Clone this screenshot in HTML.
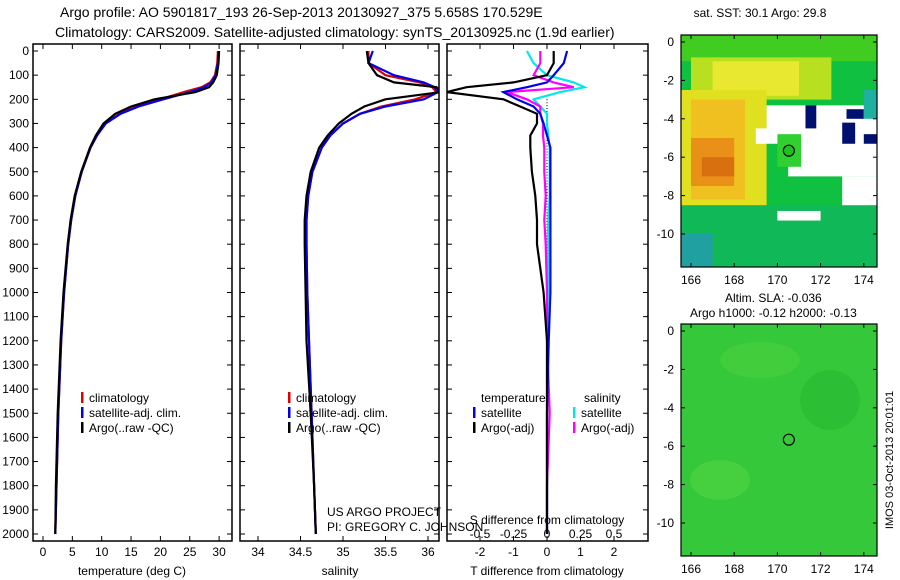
<!DOCTYPE html>
<html><head><meta charset="utf-8"><style>
body{margin:0;background:#fff}
svg{display:block;font-family:"Liberation Sans",sans-serif}
</style></head><body>
<svg id="s" width="900" height="580" viewBox="0 0 900 580">
<defs><clipPath id="c1"><rect x="681" y="35" width="196" height="232"/></clipPath><clipPath id="c2"><rect x="681" y="324" width="196" height="232"/></clipPath></defs>
<text x="60" y="17" font-size="14">Argo profile: AO 5901817_193 26-Sep-2013 20130927_375 5.658S 170.529E</text>
<text x="55" y="37" font-size="14">Climatology: CARS2009. Satellite-adjusted climatology: synTS_20130925.nc (1.9d earlier)</text>
<g id="g"></g>
</svg>
<script>
// depth grid shared by profiles
const depths=[0,50,100,130,150,170,200,230,260,300,350,400,500,600,700,800,1000,1200,1500,1800,2000];
const tempClim=[29.8,29.7,29.3,28.5,27,24,20,16,13,10.6,9.2,8.1,6.6,5.5,4.8,4.3,3.6,3.1,2.6,2.3,2.1];
const tempSat=[29.9,29.8,29.4,28.7,27.5,25,20.5,16.3,13.2,10.7,9.2,8.1,6.6,5.5,4.8,4.3,3.6,3.1,2.6,2.3,2.1];
const tempArgo=[30.0,29.9,29.6,29,28.3,26,19,15,12.3,10.3,9.0,8.0,6.5,5.4,4.7,4.2,3.5,3.0,2.5,2.2,2.1];
const salClim=[35.3,35.3,35.5,35.9,36.05,36.1,35.85,35.45,35.2,35.0,34.85,34.75,34.64,34.59,34.57,34.57,34.58,34.6,34.63,34.66,34.68];
const salSat=[35.35,35.3,35.6,35.95,36.08,36.12,35.95,35.5,35.2,35.0,34.85,34.75,34.64,34.59,34.57,34.57,34.58,34.6,34.63,34.66,34.68];
const salArgo=[35.28,35.3,35.4,35.6,36.1,36.15,35.5,35.25,35.1,34.95,34.82,34.72,34.62,34.57,34.55,34.55,34.56,34.57,34.62,34.66,34.68];
const dTsat=[0.6,0.5,0.2,0.0,-0.6,-1.3,-0.9,-0.4,-0.2,-0.1,0.0,0.1,0.1,0.1,0.1,0.1,0.1,0.05,0.0,0.0,0.0];
const dTargo=[0.2,0.2,0.0,-1.0,-2.4,-3.0,-1.3,-0.8,-0.3,-0.3,-0.5,-0.5,-0.45,-0.35,-0.3,-0.3,-0.1,0.0,0.0,0.0,0.0];
const dSsat=[-0.15,-0.1,0.0,0.2,0.28,0.1,-0.1,-0.05,0.0,0.0,0.01,0.02,0.02,0.02,0.01,0.01,0.01,0.0,0.0,0.0,0.0];
const dSargo=[-0.05,-0.05,-0.1,0.05,0.2,-0.3,-0.15,-0.05,-0.05,-0.03,-0.03,-0.02,-0.02,-0.01,-0.02,-0.01,0.0,0.0,0.02,0.0,0.0];
const depthTicks=[0,100,200,300,400,500,600,700,800,900,1000,1100,1200,1300,1400,1500,1600,1700,1800,1900,2000];
const tTicks=[0,5,10,15,20,25,30];
const sTicks=[34,34.5,35,35.5,36];
const dTicks=[-2,-1,0,1,2];
const dSTicks=[-0.5,-0.25,0,0.25,0.5];
const mapLonTicks=[166,168,170,172,174];
const mapLatTicks=[0,-2,-4,-6,-8,-10];

const NS='http://www.w3.org/2000/svg';const G=document.getElementById('g');
function el(t,a,p){const e=document.createElementNS(NS,t);for(const k in a)e.setAttribute(k,a[k]);(p||G).appendChild(e);return e;}
function tx(x,y,s,anchor,size,name){const e=el('text',{x:x,y:y,'font-size':size||12,'text-anchor':anchor||'start'});e.textContent=s;

return e;}
const Y0=44,Y1=541;
const yD=d=>51+d*0.2415;
const xT=v=>43+v*5.87, xS=v=>258+(v-34)*85, xD=v=>547+v*33.5, xDS=v=>547+v*134;
function frame(x0,x1,name){const r=el('rect',{x:x0,y:Y0,width:x1-x0,height:Y1-Y0,fill:'none',stroke:'#000','stroke-width':1.5});

}
function line(xs,xf,color,name,w,clip){let p='';depths.forEach((d,i)=>{p+=(i?'L':'M')+xf(xs[i]).toFixed(1)+','+yD(d).toFixed(1);});
const e=el('path',{d:p,fill:'none',stroke:color,'stroke-width':w||2.2});
if(clip)e.setAttribute('clip-path','url(#'+clip+')');

}
function xticks(ticks,xf,ys,name){ticks.forEach(t=>{const x=xf(t);el('line',{x1:x,x2:x,y1:Y1,y2:Y1-5,stroke:'#000'});el('line',{x1:x,x2:x,y1:Y0,y2:Y0+5,stroke:'#000'});tx(x,ys,String(t),'middle',12,name);});}
function yticks(x0,x1,lab){depthTicks.forEach(d=>{const y=yD(d);el('line',{x1:x0,x2:x0+5,y1:y,y2:y,stroke:'#000'});el('line',{x1:x1,x2:x1-5,y1:y,y2:y,stroke:'#000'});if(lab)tx(x0-4,y+4,String(d),'end',12,'depth-tick-label');});}
const defs=document.querySelector('defs');
el('clipPath',{id:'p2'},defs).appendChild(document.createElementNS(NS,'rect'));
document.querySelector('#p2 rect').setAttribute('x',240);document.querySelector('#p2 rect').setAttribute('y',44);document.querySelector('#p2 rect').setAttribute('width',199);document.querySelector('#p2 rect').setAttribute('height',497);
el('clipPath',{id:'p3'},defs).appendChild(document.createElementNS(NS,'rect'));
document.querySelector('#p3 rect').setAttribute('x',447);document.querySelector('#p3 rect').setAttribute('y',44);document.querySelector('#p3 rect').setAttribute('width',201);document.querySelector('#p3 rect').setAttribute('height',497);
// panel 1
frame(33,232,'temperature-panel');yticks(33,232,true);xticks(tTicks,xT,556,'temperature-tick-label');
tx(132,575,'temperature (deg C)','middle',12,'temperature-axis-title');
line(tempClim,xT,'#e00000','temp-climatology');line(tempSat,xT,'#0000ee','temp-satellite');line(tempArgo,xT,'#000','temp-argo');
// panel 2
frame(240,439,'salinity-panel');yticks(240,439,false);xticks(sTicks,xS,556,'salinity-tick-label');
tx(340,575,'salinity','middle',12,'salinity-axis-title');
line(salClim,xS,'#e00000','sal-climatology',2.2,'p2');line(salSat,xS,'#0000ee','sal-satellite',2.2,'p2');line(salArgo,xS,'#000','sal-argo',2.2,'p2');
// panel 3
frame(447,648,'difference-panel');yticks(447,648,false);xticks(dTicks,xD,556,'tdiff-tick-label');
dSTicks.forEach(t=>tx(xDS(t),538,String(t),'middle',12,'sdiff-tick-label'));
for(let d=200;d<2000;d+=12)el('line',{x1:547,x2:547,y1:yD(d),y2:yD(d)+1,stroke:'#000'});
tx(547,575,'T difference from climatology','middle',12,'tdiff-axis-title');
tx(547,524,'S difference from climatology','middle',12,'sdiff-axis-title');
line(dSsat,xDS,'#00e8e8','sdiff-satellite',2.2,'p3');line(dSargo,xDS,'#ff00ff','sdiff-argo',2.2,'p3');
line(dTsat,xD,'#0000ee','tdiff-satellite',2.2,'p3');line(dTargo,xD,'#000','tdiff-argo',2.2,'p3');
// legends
function leg(x,y,c,s,n){el('rect',{x:x,y:y-10,width:2.5,height:11,fill:c});tx(x+8,y,s,'start',12,n);}
[[33,''],[240,'sal-']].forEach(([o,p])=>{const dx=o-33;leg(81+dx,402,'#e00000','climatology',p+'legend-climatology');leg(81+dx,417,'#0000ee','satellite-adj. clim.',p+'legend-satellite');leg(81+dx,432,'#000','Argo(..raw -QC)',p+'legend-argo');});
tx(481,402,'temperature','start',12,'legend-temperature-header');tx(584,402,'salinity','start',12,'legend-salinity-header');
leg(473,417,'#0000ee','satellite','legend-t-satellite');leg(473,432,'#000','Argo(-adj)','legend-t-argo');
leg(573,417,'#00e8e8','satellite','legend-s-satellite');leg(573,432,'#ff00ff','Argo(-adj)','legend-s-argo');
tx(327,516,'US ARGO PROJECT','start',12,'project-label');tx(327,531,'PI: GREGORY C. JOHNSON','start',12,'pi-label');
// maps
function map(y0,name,sst){
 const x0=681,w=196,h=232;
 const lx=v=>691+(v-166)*21.6, ly=v=>y0+7+(-v)*19.2;
 const grp=el('g',{});
 const inner=el('g',{'clip-path':sst?'url(#c1)':'url(#c2)'},grp);
 el('rect',{x:x0,y:y0,width:w,height:h,fill:sst?'#10c040':'#35c83a'},inner);
 if(sst){
  const R=(a,b,c,d,f)=>el('rect',{x:lx(a),y:ly(b),width:(c-a)*21.6,height:(b-d)*19.2,fill:f},inner);
  R(165.5,0.5,176,-1,'#40cc20');R(166,-0.8,172.5,-3,'#b8e020');R(167,-1,171,-2.8,'#e8e830');
  R(165.5,-2.5,169.5,-9,'#e0e020');R(166,-3,168.5,-8.2,'#f0c020');R(166,-5,168,-7.5,'#e89018');R(166.5,-6,168,-7,'#d87010');
  R(165.5,-8.5,176,-12,'#10b858');R(165.5,-10,167,-12,'#20a0a0');
  R(169.5,-3.3,176,-5,'#fff');R(170.5,-5,176,-7,'#fff');R(169,-4.5,170.5,-5.3,'#fff');R(173,-7,176,-8.5,'#fff');R(170,-8.8,172,-9.3,'#fff');R(175,-9,176,-10,'#fff');R(174.8,-0.5,176,-2,'#fff');
  R(171.3,-3.3,171.8,-4.5,'#001070');R(173.2,-3.5,174,-4,'#001070');R(173,-4.2,173.6,-5.3,'#001070');R(174,-4.8,174.6,-5.3,'#001070');
  R(174.7,-6.5,176,-9,'#f0c030');R(175.5,-6,176,-7,'#001070');R(174,-2.5,176,-4,'#20b0a0');R(170,-4.8,171.1,-6.5,'#30d030');
 } else {
  el('ellipse',{cx:720,cy:480,rx:30,ry:20,fill:'#46d040'},inner);el('ellipse',{cx:830,cy:400,rx:30,ry:30,fill:'#2cbf35'},inner);el('ellipse',{cx:760,cy:360,rx:40,ry:18,fill:'#42ce3c'},inner);
 }
 el('rect',{x:x0,y:y0,width:w,height:h,fill:'none',stroke:'#000','stroke-width':1.2},grp);
 const m=el('circle',{cx:lx(170.53),cy:ly(-5.66),r:5.5,fill:sst?'#20c020':'none',stroke:'#000','stroke-width':1.2},grp);
 
 mapLonTicks.forEach(t=>{el('line',{x1:lx(t),x2:lx(t),y1:y0,y2:y0+4,stroke:'#000'});el('line',{x1:lx(t),x2:lx(t),y1:y0+h,y2:y0+h-4,stroke:'#000'});tx(lx(t),y0+h+17,String(t),'middle',12,'map-lon-label');});
 mapLatTicks.forEach(t=>{el('line',{x1:x0,x2:x0+4,y1:ly(t),y2:ly(t),stroke:'#000'});el('line',{x1:x0+w,x2:x0+w-4,y1:ly(t),y2:ly(t),stroke:'#000'});tx(x0-7,ly(t)+4,String(t),'end',12,'map-lat-label');});
}
map(35,'sst-map',true);map(324,'sla-map',false);
tx(760,17,'sat. SST: 30.1 Argo: 29.8','middle',12,'sst-map-title');
tx(725,302,'Altim. SLA: -0.036','start',12,'sla-map-title');
tx(690,317,'Argo h1000: -0.12 h2000: -0.13','start',12,'sla-heights');
const ts=tx(0,0,'IMOS 03-Oct-2013 20:01:01','middle',11,'timestamp');ts.setAttribute('transform','translate(893,460) rotate(-90)');
</script>
</body></html>
